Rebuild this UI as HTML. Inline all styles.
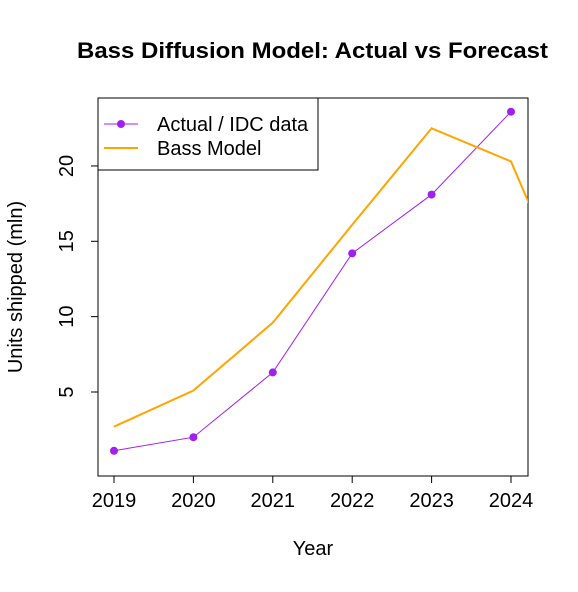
<!DOCTYPE html>
<html><head><meta charset="utf-8"><style>
body{margin:0;background:#fff;}
svg text{font-family:"Liberation Sans",Arial,sans-serif;}
</style></head><body>
<svg id="chart" width="578" height="587" xmlns="http://www.w3.org/2000/svg">
<defs><clipPath id="plotclip"><rect x="98" y="98" width="430" height="378"/></clipPath></defs>
<rect width="578" height="587" fill="#fff"/>
<text x="77" y="58" font-size="22" font-weight="bold" textLength="471" lengthAdjust="spacingAndGlyphs">Bass Diffusion Model: Actual vs Forecast</text>
<rect x="98" y="98" width="430" height="378" fill="none" stroke="#000" stroke-width="1"/>
<g id="xaxis"></g>
<g id="yaxis"></g>
<text x="313" y="555" font-size="20" text-anchor="middle">Year</text>
<text transform="translate(22,287) rotate(-90)" font-size="20" text-anchor="middle">Units shipped (mln)</text>
<g id="series" clip-path="url(#plotclip)"></g>
<g>
<rect x="98" y="98" width="220" height="72" fill="#fff" stroke="#000" stroke-width="1"/>
<line x1="104" y1="124" x2="138" y2="124" stroke="#A020F0" stroke-width="1"/>
<circle cx="121" cy="124" r="4" fill="#A020F0"/>
<text x="157" y="131" font-size="20">Actual / IDC data</text>
<line x1="104" y1="148" x2="138" y2="148" stroke="#FFA500" stroke-width="2"/>
<text x="157" y="155" font-size="20">Bass Model</text>
</g>
</svg>
<script>
const years=[2019,2020,2021,2022,2023,2024];
const actualValues=[1.1,2.0,6.3,14.2,18.1,23.6];
const bassYears=[2019,2020,2021,2022,2023,2024,2025];
const bassValues=[2.7,5.1,9.6,16.1,22.5,20.3,8.0];
const xTicks=[2019,2020,2021,2022,2023,2024];
const yTicks=[5,10,15,20];
const NS="http://www.w3.org/2000/svg";
function xs(v){return 114+(v-2019)*79.4;}
function ys(v){return 392-(v-5)*15.07;}
function mk(t,a,p){const e=document.createElementNS(NS,t);for(const k in a)e.setAttribute(k,a[k]);p.appendChild(e);return e;}
const xa=document.getElementById('xaxis'),ya=document.getElementById('yaxis'),sg=document.getElementById('series');
mk('line',{x1:xs(xTicks[0]),x2:xs(xTicks[xTicks.length-1]),y1:476,y2:476,stroke:'#000'},xa);
xTicks.forEach(t=>{mk('line',{x1:xs(t),x2:xs(t),y1:476,y2:483,stroke:'#000'},xa);
const tx=mk('text',{x:xs(t),y:507,'font-size':20,'text-anchor':'middle'},xa);tx.textContent=t;

});
mk('line',{x1:98,x2:98,y1:ys(yTicks[0]),y2:ys(yTicks[yTicks.length-1]),stroke:'#000'},ya);
yTicks.forEach(t=>{mk('line',{x1:91,x2:98,y1:ys(t),y2:ys(t),stroke:'#000'},ya);
const tx=mk('text',{transform:`translate(73,${ys(t)}) rotate(-90)`,'font-size':20,'text-anchor':'middle'},ya);tx.textContent=t;

});
const al=mk('polyline',{points:years.map((y,i)=>xs(y)+','+ys(actualValues[i])).join(' '),fill:'none',stroke:'#A020F0','stroke-width':1},sg);


years.forEach((y,i)=>{const c=mk('circle',{cx:xs(y),cy:ys(actualValues[i]),r:4,fill:'#A020F0'},sg);

});
const bl=mk('polyline',{points:bassYears.map((y,i)=>xs(y)+','+ys(bassValues[i])).join(' '),fill:'none',stroke:'#FFA500','stroke-width':2},sg);


</script>
</body></html>
